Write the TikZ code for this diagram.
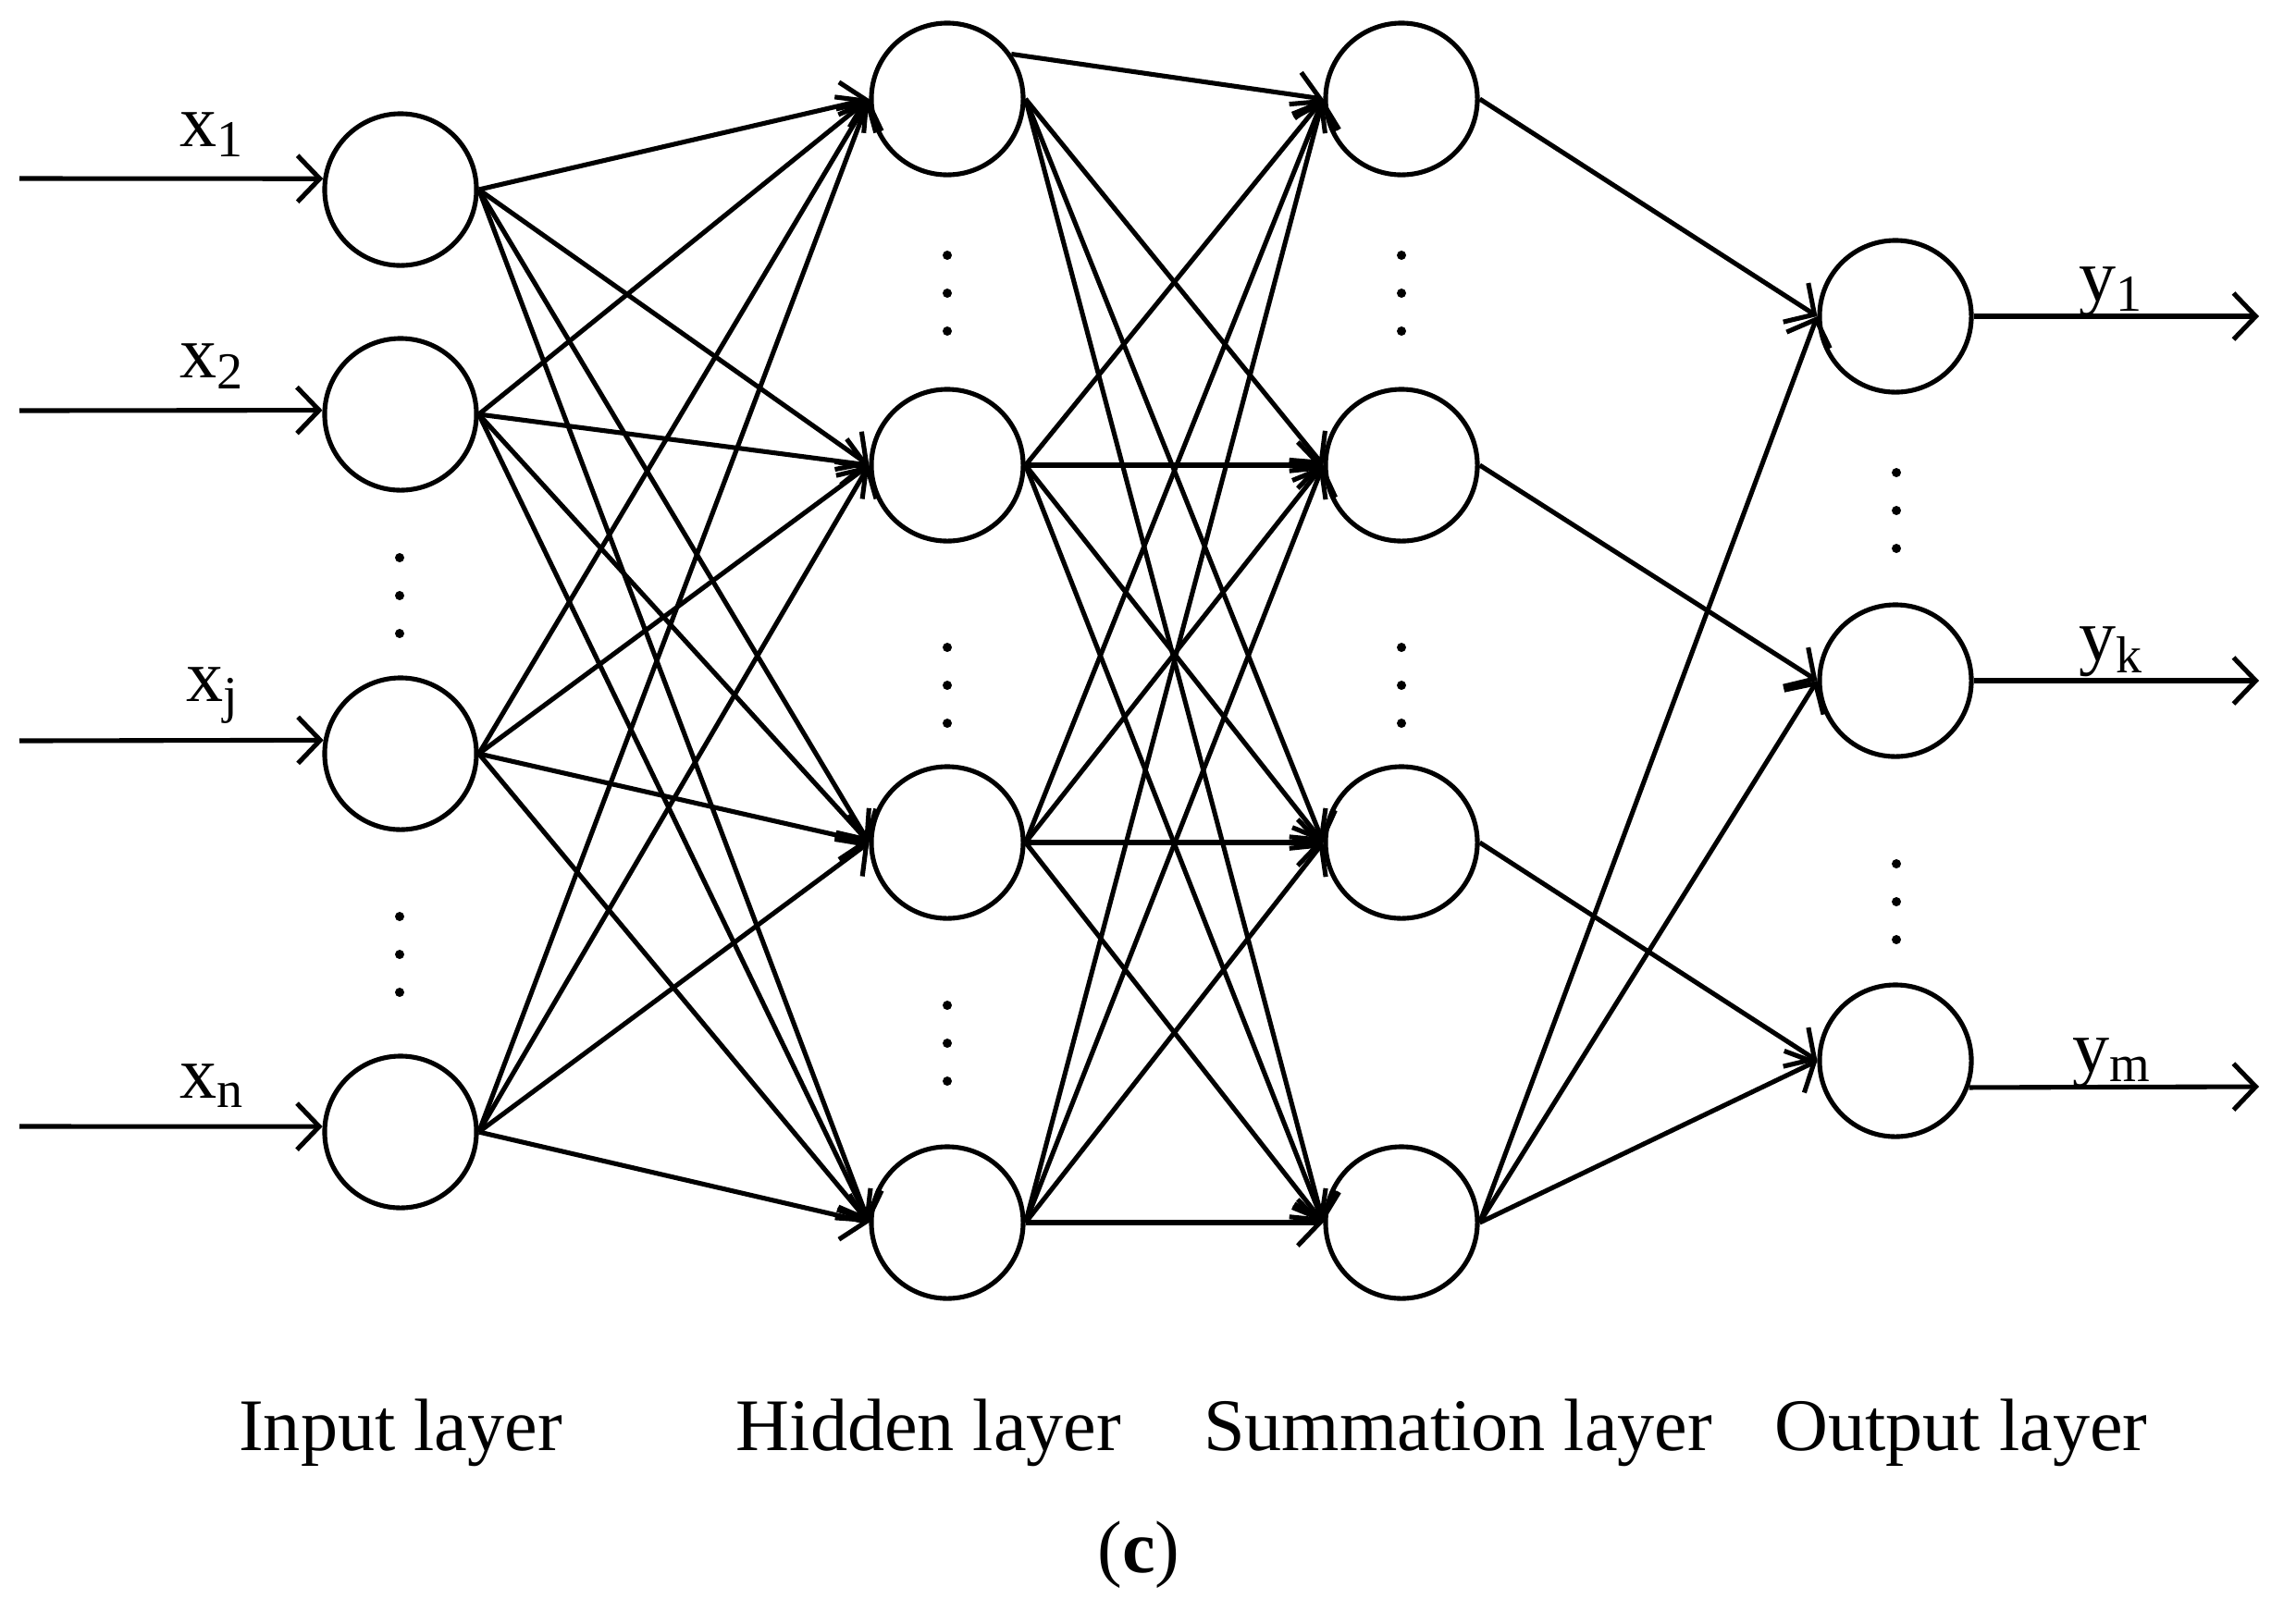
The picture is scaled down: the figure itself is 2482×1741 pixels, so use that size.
\documentclass[tikz,border=0pt]{standalone}
\usepackage{fontspec}
\setmainfont{Liberation Serif}
\usetikzlibrary{arrows.meta}

\begin{document}
\begin{tikzpicture}[x=0.01cm, y=-0.01cm, line width=1.45pt]
    \tikzstyle{neuron} = [circle, draw, inner sep=0pt, minimum size=1.64cm]
    \tikzstyle{line} = [draw, -{Straight Barb[length=0.24cm, width=0.5cm]}]
    \tikzstyle{lbl} = [inner sep=0pt, anchor=base west,
        font=\fontsize{22.8}{27}\selectfont]
    \tikzstyle{layername} = [inner sep=0pt, anchor=base,
        font=\fontsize{22.8}{27}\selectfont]
    \useasboundingbox (0,0) rectangle (2482,1741);

    % Input layer
    \foreach \i/\y in {1/205, 2/448, 3/815, 4/1224}
      \node[neuron] (in\i) at (433,\y) {};
    % Hidden layer
    \foreach \i/\y in {1/107, 2/503, 3/911, 4/1322}
      \node[neuron] (hid\i) at (1024,\y) {};
    % Summation layer
    \foreach \i/\y in {1/107, 2/503, 3/911, 4/1322}
      \node[neuron] (sum\i) at (1515,\y) {};
    % Output layer
    \foreach \i/\y in {1/342, 2/736, 3/1147}
      \node[neuron] (out\i) at (2049,\y) {};

    % inputs
    \foreach \i/\y/\a in {1/193/172, 2/444/177, 3/801/170, 4/1218/176}{
      \coordinate (xin\i) at (21,\y);
      \draw[line] (xin\i) -- (in\i.\a);
    }
    \node[lbl] (x1) at (192,158) {x\textsubscript{1}};
    \node[lbl] (x2) at (192,408) {x\textsubscript{2}};
    \node[lbl] (xj) at (199,758) {x\textsubscript{j}};
    \node[lbl] (xn) at (192,1187) {x\textsubscript{n}};

    % input to hidden
    \foreach \i in {1,...,4}
      \foreach \j in {1,...,4}
        \draw[line] (in\i.east) -- (hid\j.west);
    % hidden to summation
    \draw[line] (hid1.35) -- (sum1.west);
    \foreach \j in {2,3,4}
      \draw[line] (hid1.east) -- (sum\j.west);
    \foreach \i in {2,3,4}
      \foreach \j in {1,...,4}
        \draw[line] (hid\i.east) -- (sum\j.west);
    % summation to output
    \foreach \i in {1,2,3}{
      \draw[line] (sum\i.east) -- (out\i.west);
      \draw[line] (sum4.east) -- (out\i.west);
    }

    % outputs
    \coordinate (yout1) at (2442,342);
    \coordinate (yout2) at (2442,736);
    \coordinate (yout3) at (2442,1175);
    \draw[line] (out1.east) -- (yout1);
    \draw[line] (out2.east) -- (yout2);
    \draw[line] (out3.-20) -- (yout3);
    \node[lbl] (y1) at (2245,325) {y\textsubscript{1}};
    \node[lbl] (yk) at (2245,714) {y\textsubscript{k}};
    \node[lbl] (ym) at (2238,1159) {y\textsubscript{m}};

    % dots
    \foreach \x/\y in {432/603, 432/991, 1024/276, 1024/700, 1024/1087,
        1515/276, 1515/700, 2050/511, 2050/934}
      \foreach \d in {0,41,82}
        \fill (\x,\y+\d) circle (0.05cm);

    % layer names
    \node[layername] (inname) at (433,1568) {Input layer};
    \node[layername] (hidname) at (1004,1568) {Hidden layer};
    \node[layername] (sumname) at (1576,1568) {Summation layer};
    \node[layername] (outname) at (2120,1568) {Output layer};
    \node[layername] (caption) at (1231,1700) {(\textbf{c})};
\end{tikzpicture}
\end{document}
